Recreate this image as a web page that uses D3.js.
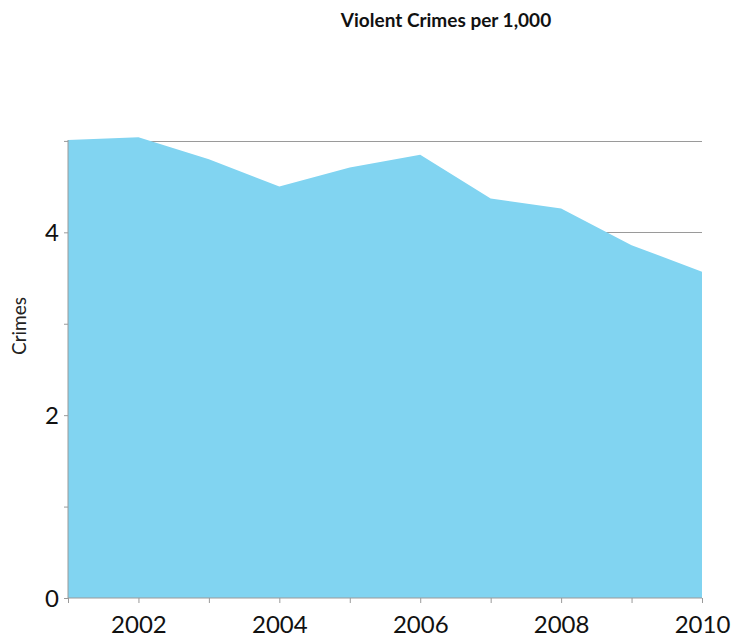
<!DOCTYPE html>
<html>
<head>
<meta charset="utf-8">
<script src="https://cdn.jsdelivr.net/npm/d3@7"></script>
<style>
  body { margin: 0; background: #fff; }
  svg { display: block; font-family: Lato, "Open Sans", sans-serif; }
</style>
</head>
<body>
<svg id="chart"></svg>
<script>
const years = [2001, 2002, 2003, 2004, 2005, 2006, 2007, 2008, 2009, 2010];
const crimes = [5.01, 5.04, 4.80, 4.50, 4.71, 4.85, 4.37, 4.26, 3.86, 3.57];
const yTickValues = [0, 1, 2, 3, 4, 5];
const yLabelValues = [0, 2, 4];
const gridValues = [4, 5];
const xLabelYears = [2002, 2004, 2006, 2008, 2010];

const dimensions = {
  width: 734,
  height: 644,
  margin: { top: 140, bottom: 46, left: 68, right: 32 }
};

function getChartSize(dims) {
  return {
    width: dims.width - dims.margin.left - dims.margin.right,
    height: dims.height - dims.margin.top - dims.margin.bottom
  };
}

const chartSize = getChartSize(dimensions);
const data = years.map((y, i) => ({ year: y, value: crimes[i] }));

const svg = d3.select("#chart")
  .attr("width", dimensions.width)
  .attr("height", dimensions.height);

const g = svg.append("g")
  .attr("transform", `translate(${dimensions.margin.left},${dimensions.margin.top})`);

const xScale = d3.scaleLinear()
  .domain([2001, 2010])
  .range([0, chartSize.width]);

const yScale = d3.scaleLinear()
  .domain([0, 5.01])
  .range([chartSize.height, 0]);

// gridlines behind the area
g.append("g")
  .selectAll("line")
  .data(gridValues)
  .join("line")
  .attr("x1", 0)
  .attr("x2", chartSize.width)
  .attr("y1", d => Math.round(yScale(d)) + 0.5)
  .attr("y2", d => Math.round(yScale(d)) + 0.5)
  .attr("stroke", "#9a9a9a")
  .attr("stroke-width", 1.2);

const area = d3.area()
  .x(d => xScale(d.year))
  .y0(yScale(0))
  .y1(d => yScale(d.value));

g.append("path")
  .datum(data)
  .attr("d", area)
  .attr("fill", "#81d4f1");

// y axis
const axisY = d3.axisLeft(yScale)
  .tickValues(yTickValues)
  .tickSize(4)
  .tickFormat(d => yLabelValues.includes(d) ? d : "");

const yAxis = g.append("g").call(axisY);
yAxis.select(".domain").attr("stroke", "#9a9a9a").attr("d", `M0,0V${chartSize.height}`);
yAxis.selectAll(".tick line").attr("stroke", "#9a9a9a");
yAxis.selectAll(".tick text")
  .attr("x", -9)
  .attr("dy", "0.35em")
  .style("font-family", "Lato, 'Open Sans', sans-serif")
  .style("font-size", "24px")
  .attr("fill", "#111");

// x axis
const axisX = d3.axisBottom(xScale)
  .tickValues(years)
  .tickSize(5)
  .tickFormat(d => xLabelYears.includes(d) ? d : "");

const xAxis = g.append("g")
  .attr("transform", `translate(0,${chartSize.height})`)
  .call(axisX);
xAxis.select(".domain").attr("stroke", "#9a9a9a").attr("d", `M0,0H${chartSize.width}`);
xAxis.selectAll(".tick line").attr("stroke", "#9a9a9a");
xAxis.selectAll(".tick text")
  .attr("y", 18)
  .attr("dy", "0.71em")
  .style("font-family", "Lato, 'Open Sans', sans-serif")
  .style("font-size", "24px")
  .attr("fill", "#111");

// title
svg.append("text")
  .attr("x", 446)
  .attr("y", 27)
  .attr("text-anchor", "middle")
  .style("font-size", "19px")
  .style("font-weight", "bold")
  .attr("fill", "#111")
  .text("Violent Crimes per 1,000");

// y axis label
svg.append("text")
  .attr("text-anchor", "middle")
  .attr("transform", "translate(26,326)rotate(-90)")
  .style("font-size", "19px")
  .attr("fill", "#222")
  .text("Crimes");
</script>
</body>
</html>
